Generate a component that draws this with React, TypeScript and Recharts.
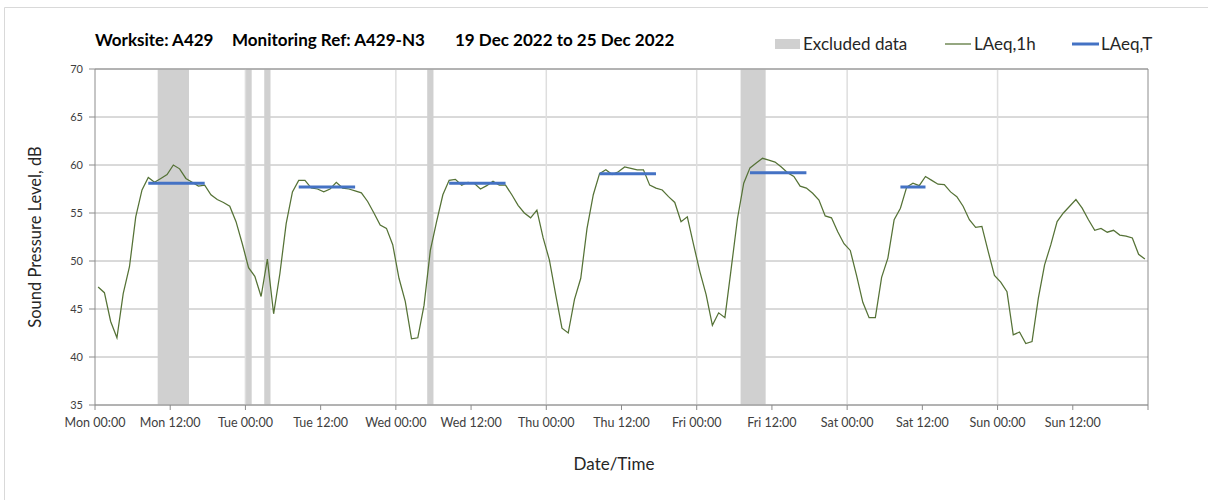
import {
  ComposedChart,
  Line,
  XAxis,
  YAxis,
  CartesianGrid,
  ReferenceArea,
  ReferenceLine,
} from "recharts";

// hourly LAeq,1h readings, Mon 00:00 through Sun 23:00
const LAEQ_1H = [
  // Mon
  47.3, 46.7, 43.7, 42.0, 46.6, 49.4, 54.6, 57.4, 58.7, 58.2, 58.6, 59.0,
  60.0, 59.6, 58.6, 58.2, 57.8, 57.9, 56.9, 56.4, 56.1, 55.7, 54.1, 51.8,
  // Tue
  49.3, 48.4, 46.3, 50.2, 44.5, 48.7, 53.9, 57.2, 58.4, 58.4, 57.6, 57.5,
  57.2, 57.5, 58.2, 57.6, 57.5, 57.3, 57.1, 56.2, 55.0, 53.75, 53.4, 51.7,
  // Wed
  48.2, 45.8, 41.9, 42.0, 45.4, 51.1, 54.1, 56.9, 58.4, 58.5, 57.9, 58.2,
  58.1, 57.5, 57.85, 58.3, 57.9, 57.9, 56.9, 55.8, 55.0, 54.5, 55.3, 52.4,
  // Thu
  50.1, 46.5, 43.0, 42.5, 46.0, 48.2, 53.4, 56.9, 59.1, 59.5, 59.0, 59.3,
  59.8, 59.65, 59.5, 59.5, 57.9, 57.6, 57.4, 56.7, 56.1, 54.1, 54.6, 51.7,
  // Fri
  48.9, 46.5, 43.3, 44.6, 44.1, 49.2, 54.4, 58.1, 59.7, 60.2, 60.7, 60.5,
  60.3, 59.8, 59.2, 58.8, 57.8, 57.6, 57.05, 56.35, 54.7, 54.5, 53.05, 51.8,
  // Sat
  51.1, 48.5, 45.7, 44.1, 44.1, 48.3, 50.3, 54.3, 55.5, 57.7, 58.1, 57.85,
  58.8, 58.4, 58.0, 57.95, 57.2, 56.7, 55.7, 54.3, 53.5, 53.6, 51.0, 48.5,
  // Sun
  47.8, 46.8, 42.3, 42.6, 41.4, 41.6, 46.1, 49.6, 51.7, 54.1, 55.0, 55.7,
  56.4, 55.5, 54.3, 53.2, 53.4, 53.0, 53.2, 52.7, 52.6, 52.4, 50.7, 50.2,
];

// LAeq,T per day (Mon..Sun), and the last hour of each day's period
const LAEQ_T = [58.1, 57.7, 58.1, 59.1, 59.2, 57.7, null];
const LAEQ_T_START_HOUR = 8;
const LAEQ_T_END_HOUR = [17, 17, 17, 17, 17, 12, null];

// excluded data windows, hours from Mon 00:00
const EXCLUDED = [
  [10, 15],
  [24, 25],
  [27, 28],
  [53, 54],
  [103, 107],
];

const X_TICKS = [0, 12, 24, 36, 48, 60, 72, 84, 96, 108, 120, 132, 144, 156, 168];
const X_TICK_LABELS = [
  "Mon 00:00", "Mon 12:00", "Tue 00:00", "Tue 12:00", "Wed 00:00", "Wed 12:00",
  "Thu 00:00", "Thu 12:00", "Fri 00:00", "Fri 12:00", "Sat 00:00", "Sat 12:00",
  "Sun 00:00", "Sun 12:00", "",
];
const MIDNIGHTS = [24, 48, 72, 96, 120, 144];
const Y_TICKS = [35, 40, 45, 50, 55, 60, 65, 70];

const FONT = "Lato, 'Open Sans', sans-serif";
const GREEN = "#557236";
const BLUE = "#4472c4";

const data = LAEQ_1H.map((v, h) => {
  const day = Math.floor(h / 24);
  const hod = h % 24;
  const end = LAEQ_T_END_HOUR[day];
  const inPeriod = end != null && hod >= LAEQ_T_START_HOUR && hod <= end;
  return { t: h + 0.5, laeq1h: v, laeqT: inPeriod ? LAEQ_T[day] : null };
});

const Overlay = () => (
  <svg
    width={1208}
    height={500}
    style={{ position: "absolute", left: 0, top: 0, pointerEvents: "none" }}
    fontFamily={FONT}
  >
    <line x1={4.5} y1={7.5} x2={1208} y2={7.5} stroke="#d9d9d9" />
    <line x1={4.5} y1={7.5} x2={4.5} y2={500} stroke="#d9d9d9" />

    <g fontWeight={700} fontSize={17} fill="#000">
      <text x={95} y={46}>Worksite: A429</text>
      <text x={232} y={46}>Monitoring Ref: A429-N3</text>
      <text x={455} y={46}>19 Dec 2022 to 25 Dec 2022</text>
    </g>

    <g fontSize={17} fill="#262626">
      <rect x={775} y={39} width={25} height={10} fill="#d0d0d0" />
      <text x={803} y={50}>Excluded data</text>
      <line x1={945} y1={44} x2={971} y2={44} stroke={GREEN} strokeWidth={1.25} />
      <text x={974} y={50}>LAeq,1h</text>
      <line x1={1072} y1={44} x2={1099} y2={44} stroke={BLUE} strokeWidth={3} />
      <text x={1101} y={50}>LAeq,T</text>
    </g>

    <text
      x={41}
      y={237}
      fontSize={16.5}
      fill="#262626"
      textAnchor="middle"
      transform="rotate(-90 41 237)"
    >
      Sound Pressure Level, dB
    </text>
    <text x={614} y={470} fontSize={17} fill="#262626" textAnchor="middle">
      Date/Time
    </text>
  </svg>
);

export default function App() {
  return (
    <div style={{ position: "absolute", left: 0, top: 0, width: 1208, height: 500, background: "#fff" }}>
      <ComposedChart
        width={1208}
        height={500}
        data={data}
        margin={{ top: 69, right: 60, left: 0, bottom: 65 }}
      >
        {EXCLUDED.map(([a, b], i) => (
          <ReferenceArea
            key={`ex-${i}`}
            x1={a}
            x2={b}
            y1={35}
            y2={70}
            fill="#d0d0d0"
            fillOpacity={1}
            stroke="none"
          />
        ))}
        <CartesianGrid vertical={false} stroke="#b4b4b4" />
        {MIDNIGHTS.map((m) => (
          <ReferenceLine key={`mid-${m}`} x={m} stroke="#dedede" strokeWidth={1.5} />
        ))}
        <ReferenceLine y={70} stroke="#8c8c8c" />
        <ReferenceLine x={168} stroke="#8c8c8c" />
        <XAxis
          type="number"
          dataKey="t"
          domain={[0, 168]}
          ticks={X_TICKS}
          interval={0}
          allowDataOverflow
          height={30}
          tickSize={5}
          tickMargin={8}
          axisLine={{ stroke: "#8c8c8c" }}
          tickLine={{ stroke: "#8c8c8c" }}
          tick={{ fill: "#404040", fontSize: 12.5, fontFamily: FONT }}
          tickFormatter={(v: number) => X_TICK_LABELS[X_TICKS.indexOf(v)] ?? ""}
        />
        <YAxis
          type="number"
          domain={[35, 70]}
          ticks={Y_TICKS}
          interval={0}
          width={95}
          tickSize={6}
          tickMargin={6}
          axisLine={{ stroke: "#8c8c8c" }}
          tickLine={{ stroke: "#8c8c8c" }}
          tick={{ fill: "#404040", fontSize: 11, fontFamily: FONT }}
        />
        <Line
          type="linear"
          dataKey="laeq1h"
          stroke={GREEN}
          strokeWidth={1.25}
          dot={false}
          activeDot={false}
          isAnimationActive={false}
        />
        <Line
          type="linear"
          dataKey="laeqT"
          stroke={BLUE}
          strokeWidth={3}
          dot={false}
          activeDot={false}
          connectNulls={false}
          isAnimationActive={false}
        />
      </ComposedChart>
      <Overlay />
    </div>
  );
}
